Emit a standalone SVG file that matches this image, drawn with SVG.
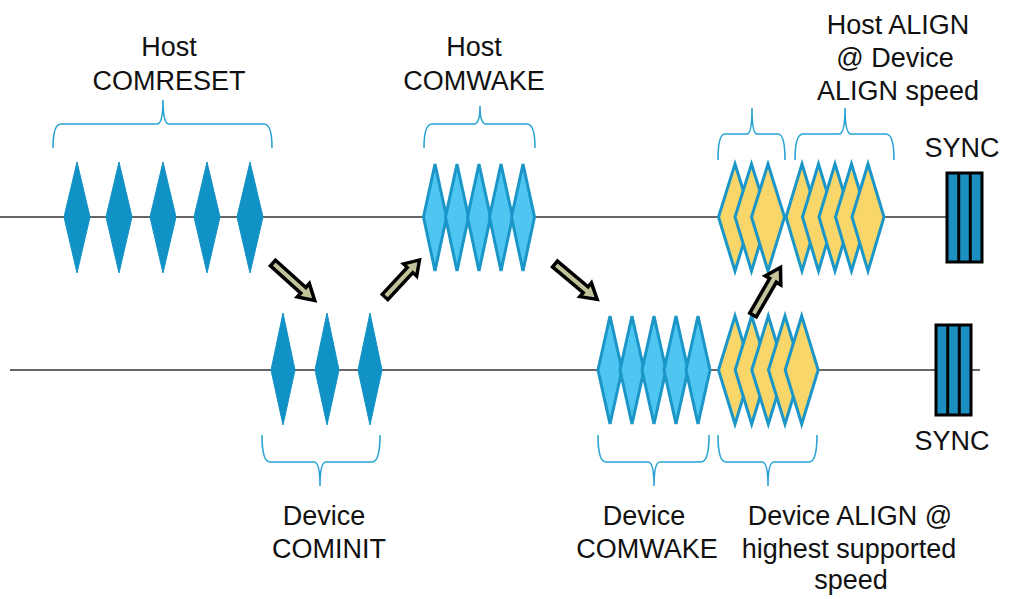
<svg xmlns="http://www.w3.org/2000/svg" width="1011" height="599" viewBox="0 0 1011 599">
<style>
.txt{font-family:"Liberation Sans",Arial,sans-serif;font-size:27px;fill:#111;text-anchor:middle}
.line{stroke:#333;stroke-width:1.5;fill:none}
.brace{stroke:#2aa3d3;stroke-width:1.6;fill:none}
.solid{fill:#1192c6;stroke:#1192c6;stroke-width:1;stroke-linejoin:round}
.lb{fill:#4fc5f1;stroke:#1a96c8;stroke-width:3;stroke-linejoin:miter}
.yl{fill:#f8d66a;stroke:#1a96c8;stroke-width:3;stroke-linejoin:miter}
.sync{fill:#1a8fc0;stroke:#000;stroke-width:3}
.stripe{stroke:#000;stroke-width:3}
.arr{fill:#c3c39a;stroke:#000;stroke-width:3.5;stroke-linejoin:miter}
</style>
<defs>
<path id="arrow" d="M0,-3.8 L40,-3.8 L40,-9 L55,0 L40,9 L40,3.8 L0,3.8 Z"/>
</defs>
<rect width="1011" height="599" fill="#fff"/>

<g id="timelines">
<line class="line" x1="0" y1="217" x2="947" y2="217"/>
<line class="line" x1="10" y1="370" x2="980" y2="370"/>
</g>

<g id="host-comreset">
<path class="brace" d="M53,148 Q53,124 61,124 L157,124 Q163,124 163,100 Q163,124 169,124 L264,124 Q272,124 272,148"/>
<polygon class="solid" points="77,162 90,217 77,273 64,217"/>
<polygon class="solid" points="119,162 132,217 119,273 106,217"/>
<polygon class="solid" points="163,162 176,217 163,273 150,217"/>
<polygon class="solid" points="207,162 220,217 207,273 194,217"/>
<polygon class="solid" points="250,162 263,217 250,273 237,217"/>
<text class="txt" x="169" y="56">Host</text>
<text class="txt" x="169" y="90">COMRESET</text>
</g>

<g id="device-cominit">
<polygon class="solid" points="283,313 295,370 283,425 271,370"/>
<polygon class="solid" points="327,313 339,370 327,425 315,370"/>
<polygon class="solid" points="370,313 382,370 370,425 358,370"/>
<path class="brace" d="M262,435 Q262,462 270,462 L314,462 Q320,462 320,486 Q320,462 326,462 L372,462 Q380,462 380,435"/>
<text class="txt" x="324" y="525">Device</text>
<text class="txt" x="329" y="558">COMINIT</text>
</g>

<g id="host-comwake">
<path class="brace" d="M424,148 Q424,124 432,124 L474,124 Q480,124 480,106 Q480,124 486,124 L527,124 Q535,124 535,148"/>
<polygon class="lb" points="435,164 446.5,217 435,271 423.5,217"/>
<polygon class="lb" points="457,164 468.5,217 457,271 445.5,217"/>
<polygon class="lb" points="479,164 490.5,217 479,271 467.5,217"/>
<polygon class="lb" points="501,164 512.5,217 501,271 489.5,217"/>
<polygon class="lb" points="523,164 534.5,217 523,271 511.5,217"/>
<text class="txt" x="474" y="56">Host</text>
<text class="txt" x="474" y="90">COMWAKE</text>
</g>

<g id="device-comwake">
<polygon class="lb" points="610,316 622,370 610,424 598,370"/>
<polygon class="lb" points="632,316 644,370 632,424 620,370"/>
<polygon class="lb" points="654,316 666,370 654,424 642,370"/>
<polygon class="lb" points="676,316 688,370 676,424 664,370"/>
<polygon class="lb" points="698,316 710,370 698,424 686,370"/>
<path class="brace" d="M598,435 Q598,462 606,462 L648,462 Q654,462 654,486 Q654,462 660,462 L701,462 Q709,462 709,435"/>
<text class="txt" x="644" y="525">Device</text>
<text class="txt" x="647" y="558">COMWAKE</text>
</g>

<g id="host-align">
<path class="brace" d="M718,160 Q718,134 725,134 L747,134 Q752,134 752,108 Q752,134 757,134 L778,134 Q785,134 785,160"/>
<path class="brace" d="M795,160 Q795,134 803,134 L839,134 Q845,134 845,108 Q845,134 851,134 L886,134 Q894,134 894,160"/>
<polygon class="yl" points="735,164 751.5,217 735,271 718.5,217"/>
<polygon class="yl" points="751.5,164 768,217 751.5,271 735,217"/>
<polygon class="yl" points="768,164 784.5,217 768,271 751.5,217"/>
<polygon class="yl" points="802,164 818,217 802,271 786,217"/>
<polygon class="yl" points="818.5,164 834.5,217 818.5,271 802.5,217"/>
<polygon class="yl" points="835,164 851,217 835,271 819,217"/>
<polygon class="yl" points="851.5,164 867.5,217 851.5,271 835.5,217"/>
<polygon class="yl" points="868,164 884,217 868,271 852,217"/>
<text class="txt" x="898" y="34">Host ALIGN</text>
<text class="txt" x="895" y="67">@ Device</text>
<text class="txt" x="898" y="100">ALIGN speed</text>
</g>

<g id="device-align">
<polygon class="yl" points="735,316 751.5,370 735,424 718.5,370"/>
<polygon class="yl" points="751.7,316 768.2,370 751.7,424 735.2,370"/>
<polygon class="yl" points="768.3,316 784.8,370 768.3,424 751.8,370"/>
<polygon class="yl" points="785,316 801.5,370 785,424 768.5,370"/>
<polygon class="yl" points="801.7,316 818.2,370 801.7,424 785.2,370"/>
<path class="brace" d="M718,435 Q718,462 726,462 L762,462 Q768,462 768,486 Q768,462 774,462 L809,462 Q817,462 817,435"/>
<text class="txt" x="850" y="525">Device ALIGN @</text>
<text class="txt" x="849" y="558">highest supported</text>
<text class="txt" x="851" y="589">speed</text>
</g>

<g id="host-sync">
<rect class="sync" x="947" y="173" width="35" height="89"/>
<line class="stripe" x1="958.7" y1="173" x2="958.7" y2="262"/>
<line class="stripe" x1="970.3" y1="173" x2="970.3" y2="262"/>
<text class="txt" x="962" y="157">SYNC</text>
</g>

<g id="device-sync">
<rect class="sync" x="936" y="325" width="35" height="90"/>
<line class="stripe" x1="947.7" y1="325" x2="947.7" y2="415"/>
<line class="stripe" x1="959.3" y1="325" x2="959.3" y2="415"/>
<text class="txt" x="952" y="450">SYNC</text>
</g>

<g id="connectors">
<use href="#arrow" class="arr" transform="translate(273,263) rotate(42) scale(1.02,1)"/>
<use href="#arrow" class="arr" transform="translate(385,297) rotate(-47) scale(0.92,1)"/>
<use href="#arrow" class="arr" transform="translate(555,264) rotate(40)"/>
<use href="#arrow" class="arr" transform="translate(753,315) rotate(-60)"/>
</g>
</svg>
